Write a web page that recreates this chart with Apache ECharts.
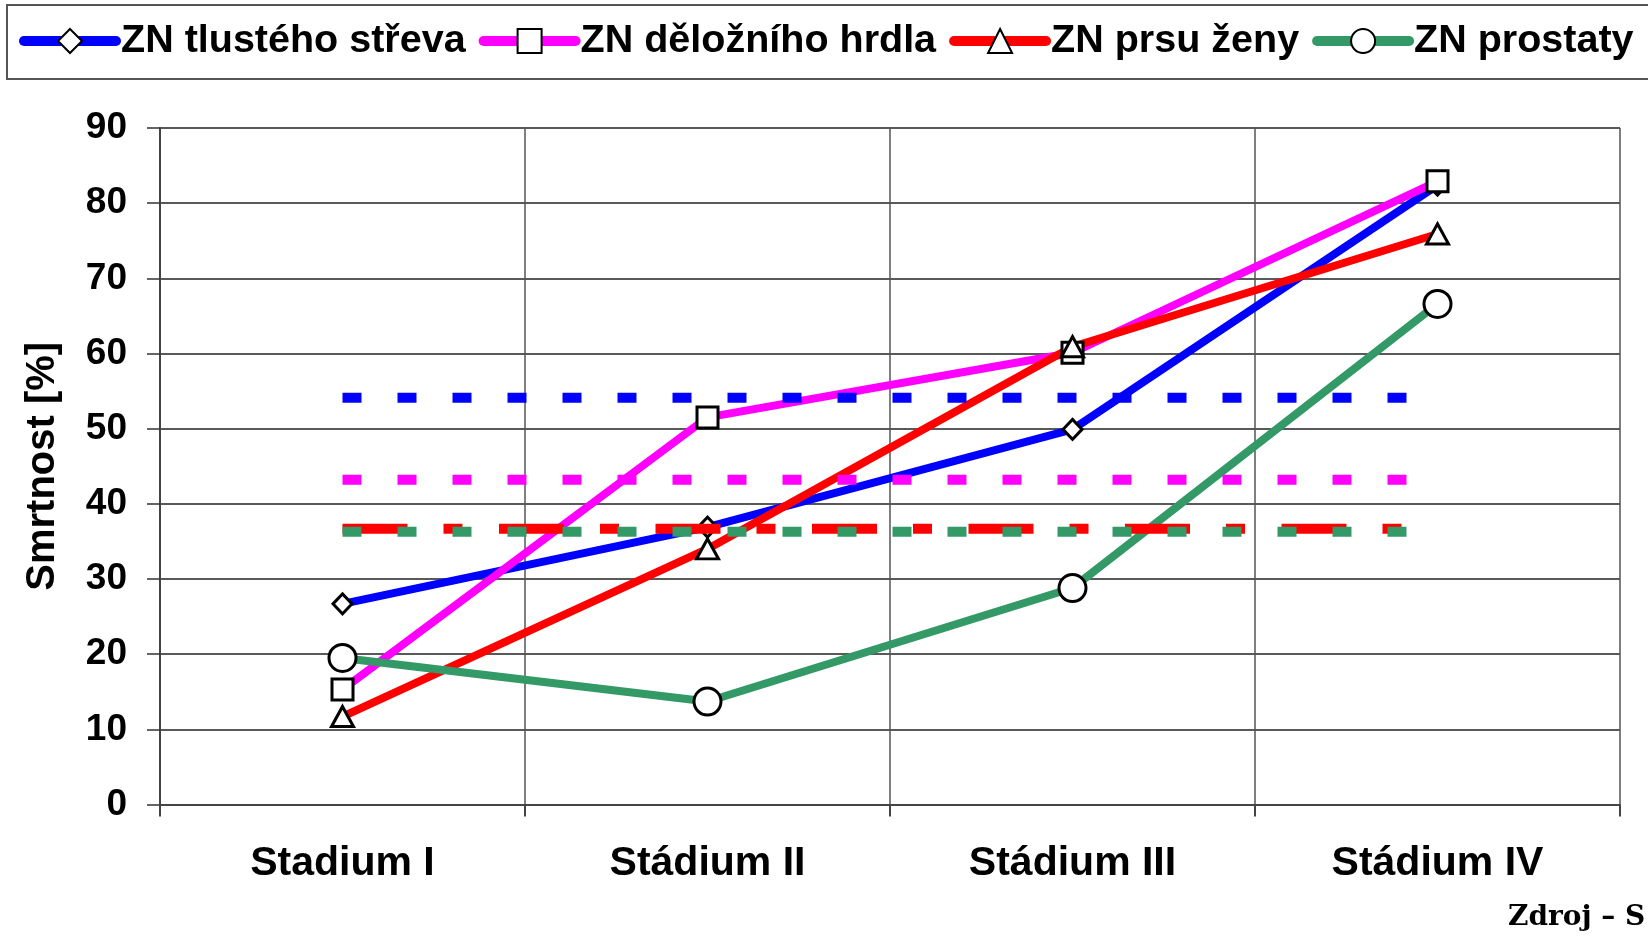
<!DOCTYPE html>
<html><head><meta charset="utf-8">
<script src="https://cdn.jsdelivr.net/npm/echarts@6/dist/echarts.min.js"></script>
<style>html,body{margin:0;padding:0;background:#fff}#c{width:1648px;height:941px}</style>
</head><body><div id="c"></div>
<script>
var categories = ['Stadium I', 'Stádium II', 'Stádium III', 'Stádium IV'];
var seriesNames = ['ZN tlustého střeva', 'ZN děložního hrdla', 'ZN prsu ženy', 'ZN prostaty'];
var colon = [26.7, 36.9, 49.9, 82.4];
var cervix = [15.3, 51.5, 60.1, 82.9];
var breast = [11.7, 34.0, 60.9, 75.9];
var prostate = [19.5, 13.7, 28.8, 66.6];
var avgColon = 54.1, avgCervix = 43.2, avgBreast = 36.7, avgProstate = 36.3;
var yTicks = [0, 10, 20, 30, 40, 50, 60, 70, 80, 90];
var sourceText = 'Zdroj – S';

var colors = ['#0000FF', '#FF00FF', '#FF0000', '#339966'];
var FONT = 'Liberation Sans, Arial, sans-serif';

function mainSeries(name, data, color, symbol, size) {
  return {
    name: name, type: 'line', data: data, symbol: symbol, symbolSize: size,
    showAllSymbol: true,
    lineStyle: {color: color, width: 8, cap: 'round', join: 'round'},
    itemStyle: {color: '#fff', borderColor: '#000', borderWidth: 3},
    emphasis: {disabled: true}, z: 3
  };
}
function avgSeries(value, color, dash) {
  return {
    type: 'line', data: categories.map(function(){ return value; }),
    showSymbol: false, symbol: 'none', silent: true,
    lineStyle: {color: color, width: 10, type: dash, cap: 'butt'},
    emphasis: {disabled: true}, z: 4
  };
}

var chart = echarts.init(document.getElementById('c'), null, {renderer: 'canvas'});
chart.setOption({
  animation: false,
  backgroundColor: '#fff',
  graphic: [
    {type: 'rect', shape: {x: 7, y: 5, width: 1700, height: 74}, style: {fill: 'none', stroke: '#555', lineWidth: 2}, z: -1},
    {type: 'text', left: 1508, top: 904, style: {text: sourceText, font: 'bold 28px "DejaVu Serif", serif', fill: '#000'}}
  ],
  legend: {
    data: seriesNames, left: 19, top: 21, itemGap: 13, itemWidth: 92, itemHeight: 30,
    padding: 0, selectedMode: false,
    textStyle: {fontFamily: FONT, fontWeight: 'bold', fontSize: 39.5, color: '#000', padding: [0,0,0,0]},
    lineStyle: {width: 10, cap: 'round'}
  },
  grid: {left: 160, right: 28, top: 128, bottom: 136.5, containLabel: false},
  xAxis: {
    type: 'category', data: categories, boundaryGap: true,
    axisLine: {lineStyle: {color: '#444', width: 2}},
    axisTick: {show: true, length: 12, interval: 0, lineStyle: {color: '#444', width: 2}},
    axisLabel: {interval: 0, margin: 39, fontFamily: FONT, fontWeight: 'bold', fontSize: 41, color: '#000'},
    splitLine: {show: true, interval: 0, lineStyle: {color: '#555', width: 1.5}}
  },
  yAxis: {
    type: 'value', min: 0, max: 90, interval: 10,
    name: 'Smrtnost [%]', nameLocation: 'middle', nameGap: 97,
    nameTextStyle: {fontFamily: FONT, fontWeight: 'bold', fontSize: 40, color: '#000'},
    axisLine: {show: true, lineStyle: {color: '#444', width: 2}},
    axisTick: {show: true, length: 13, lineStyle: {color: '#333', width: 1.5}},
    axisLabel: {margin: 33, fontFamily: FONT, fontWeight: 'bold', fontSize: 37, color: '#000',
      formatter: function(v){ return yTicks.indexOf(v) >= 0 ? String(v) : ''; }},
    splitLine: {show: true, lineStyle: {color: '#222', width: 1.5}}
  },
  series: [
    mainSeries(seriesNames[0], colon, colors[0], 'diamond', [19, 20]),
    mainSeries(seriesNames[1], cervix, colors[1], 'rect', 21),
    mainSeries(seriesNames[2], breast, colors[2], 'triangle', [22, 20]),
    mainSeries(seriesNames[3], prostate, colors[3], 'circle', 27),
    avgSeries(avgColon, colors[0], [19, 36]),
    avgSeries(avgCervix, colors[1], [19, 36]),
    avgSeries(avgBreast, colors[2], [65, 36, 19, 36.5]),
    avgSeries(avgProstate, colors[3], [19, 36])
  ]
});
</script></body></html>
